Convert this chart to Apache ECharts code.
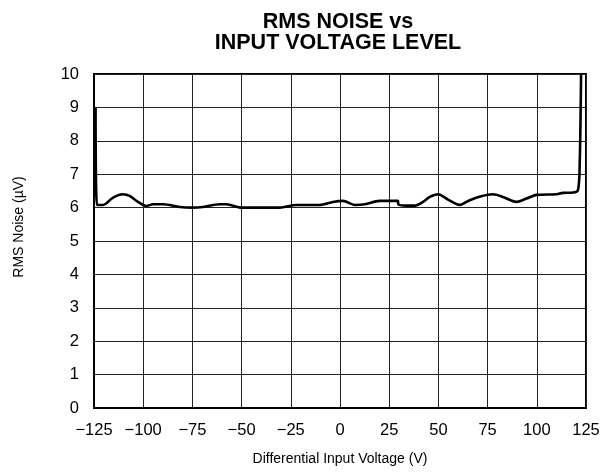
<!DOCTYPE html>
<html>
<head>
<meta charset="utf-8">
<title>RMS Noise vs Input Voltage Level</title>
<script src="https://cdn.jsdelivr.net/npm/echarts@6/dist/echarts.min.js"></script>
<style>
  html, body { margin: 0; padding: 0; background: #fff; }
  #chart { width: 603px; height: 476px; }
</style>
</head>
<body>
<div id="chart"></div>
<script>
// differential input voltage (V)
const voltage = [
  -124.2, -123.5, -120.4, -115.3, -110.3, -106.9, -102.6, -98.4, -95, -89.9,
  -81.4, -75.2, -69.6, -61.1, -57.7, -50.1, -30.6, -22.2, -10.3, -3.6,
  1.5, 7.5, 12.6, 20.2, 29.5, 29.6, 33.7, 37.9, 42.2, 45.6,
  49.8, 54.9, 60.8, 65.9, 71.8, 77.7, 82.8, 89.6, 94.7, 99.8,
  110, 113.3, 118.4, 120.9, 121.8, 122.5
];
// RMS noise (uV)
const noise = [
  9.0, 6.08, 6.08, 6.3, 6.4, 6.35, 6.17, 6.05, 6.1, 6.1,
  6.02, 6.0, 6.02, 6.1, 6.1, 6.0, 6.0, 6.08, 6.08, 6.17,
  6.2, 6.08, 6.1, 6.2, 6.2, 6.1, 6.06, 6.06, 6.17, 6.32,
  6.4, 6.24, 6.08, 6.22, 6.34, 6.4, 6.32, 6.17, 6.27, 6.38,
  6.4, 6.44, 6.45, 6.52, 7.3, 10.0
];

const font = "'Liberation Sans', Arial, sans-serif";

const chart = echarts.init(document.getElementById('chart'));

chart.setOption({
  backgroundColor: '#fff',
  animation: false,
  title: {
    text: 'RMS NOISE vs\nINPUT VOLTAGE LEVEL',
    left: 333,
    top: 7,
    textAlign: 'center',
    textStyle: {
      fontFamily: font,
      fontSize: 21.5,
      fontWeight: 'bold',
      lineHeight: 21,
      color: '#000'
    }
  },
  grid: {
    left: 94,
    right: 17,
    top: 74,
    bottom: 68,
    show: true,
    borderColor: '#000',
    borderWidth: 2
  },
  xAxis: {
    type: 'value',
    min: -125,
    max: 125,
    interval: 25,
    name: 'Differential Input Voltage (V)',
    nameLocation: 'middle',
    nameGap: 44,
    nameTextStyle: { fontFamily: font, fontSize: 14, color: '#000' },
    axisLine: { show: true, onZero: false, lineStyle: { color: '#000', width: 2 } },
    axisTick: { show: false },
    axisLabel: {
      margin: 14,
      fontFamily: font,
      fontSize: 16.5,
      color: '#000',
      formatter: v => String(v).replace('-', '\u2212')
    },
    splitLine: { show: true, lineStyle: { color: '#222', width: 1 } }
  },
  yAxis: {
    type: 'value',
    min: 0,
    max: 10,
    interval: 1,
    name: 'RMS Noise (\u00b5V)',
    nameLocation: 'middle',
    nameGap: 68,
    nameRotate: 90,
    nameTextStyle: { fontFamily: font, fontSize: 14, color: '#000', padding: [0, 0, 0, 28] },
    axisLine: { show: true, onZero: false, lineStyle: { color: '#000', width: 2 } },
    axisTick: { show: false },
    axisLabel: {
      margin: 15,
      fontFamily: font,
      fontSize: 16.5,
      color: '#000'
    },
    splitLine: { show: true, lineStyle: { color: '#222', width: 1 } }
  },
  series: [{
    type: 'line',
    data: voltage.map((v, i) => [v, noise[i]]),
    showSymbol: false,
    smooth: 0.3,
    lineStyle: { color: '#000', width: 2.6 },
    clip: true
  }]
});
</script>
</body>
</html>
